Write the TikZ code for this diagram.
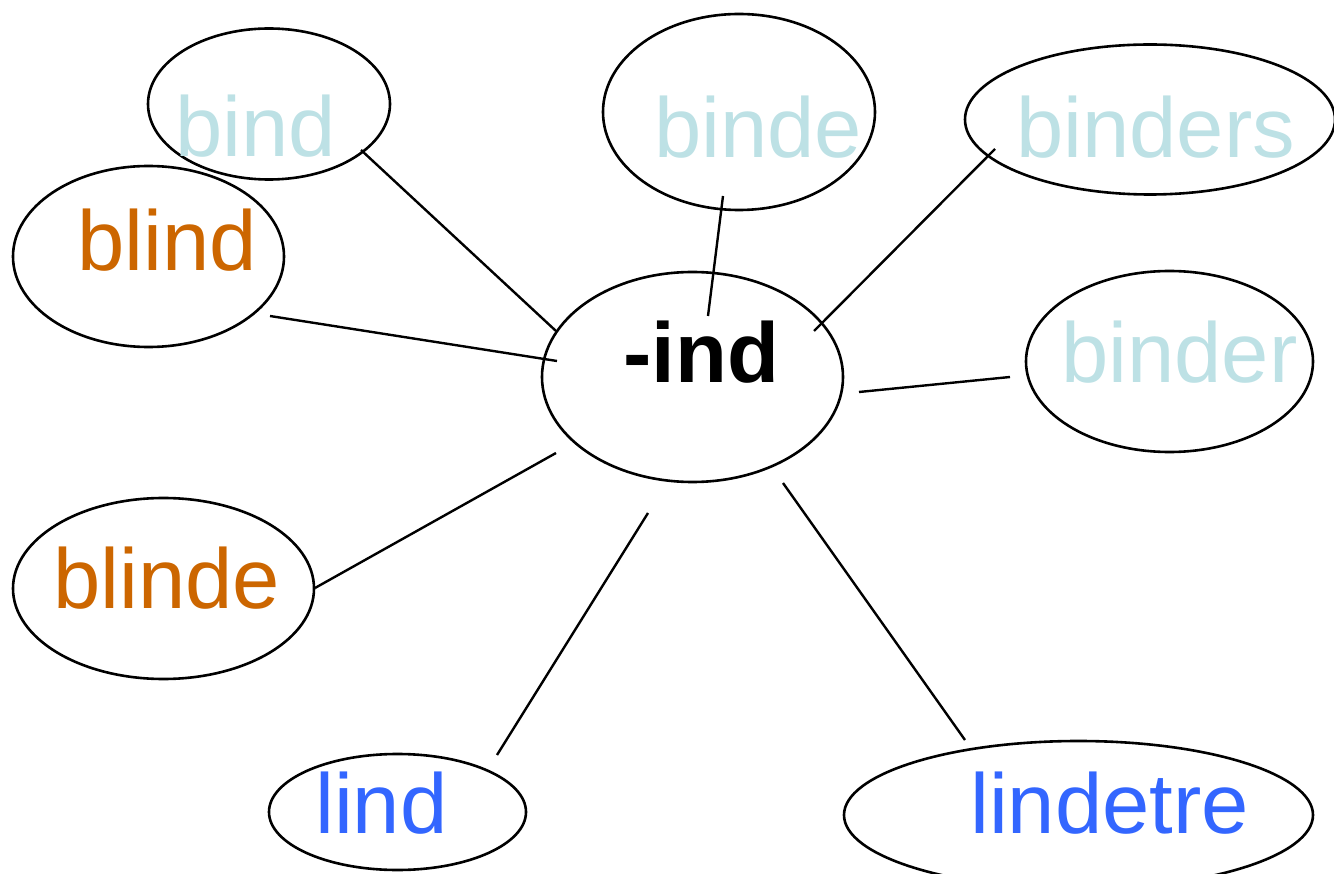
\documentclass[tikz,border=0pt]{standalone}
\usepackage{fontspec}
\setmainfont{Liberation Sans}
\usetikzlibrary{shapes.geometric}
\definecolor{lcyan}{HTML}{BDE1E5}
\definecolor{lorange}{HTML}{CC6600}
\definecolor{lblue}{HTML}{3366FF}
\tikzset{
  bubble/.style={ellipse, draw=black, line width=2.6pt, inner sep=0pt, fill=none},
  word/.style={anchor=base west, inner sep=0pt, font=\fontsize{85}{100}\selectfont},
  link/.style={draw=black, line width=2.4pt},
}
\begin{document}
\begin{tikzpicture}[x=1pt,y=-1pt]
\useasboundingbox (0,0) rectangle (1334,874);
\clip (0,0) rectangle (1334,874);
% ellipses
\node[bubble, minimum width=242pt, minimum height=151pt] (bindE) at (269,104) {};
\node[bubble, minimum width=272pt, minimum height=196pt] (bindeE) at (739,112) {};
\node[bubble, minimum width=370pt, minimum height=150pt] (bindersE) at (1150,119.5) {};
\node[bubble, minimum width=271pt, minimum height=181pt] (blindE) at (148.5,256.5) {};
\node[bubble, minimum width=301pt, minimum height=210pt] (indE) at (692.5,377) {};
\node[bubble, minimum width=287pt, minimum height=181pt] (binderE) at (1169.5,361.5) {};
\node[bubble, minimum width=301pt, minimum height=181pt] (blindeE) at (163.5,588.5) {};
\node[bubble, minimum width=257pt, minimum height=116pt] (lindE) at (397.5,812) {};
\node[bubble, minimum width=469pt, minimum height=148pt] (lindetreE) at (1078.5,815) {};
% words
\node[word, text=lcyan] (bind) at (175,157) {bind};
\node[word, text=lcyan] (binde) at (654,158) {binde};
\node[word, text=lcyan] (binders) at (1016,158) {binders};
\node[word, text=lorange] (blind) at (77,271) {blind};
\node[word, font=\fontsize{85}{100}\selectfont\bfseries] (ind) at (623,383) {-ind};
\node[word, text=lcyan] (binder) at (1061,383) {binder};
\node[word, text=lorange] (blinde) at (53,608) {blinde};
\node[word, text=lblue] (lind) at (315,833) {lind};
\node[word, text=lblue] (lindetre) at (970,833) {lindetre};
% connector end points
\coordinate (cBind) at (361,150);
\coordinate (cBindI) at (556,331);
\coordinate (cBlind) at (270,316);
\coordinate (cBlindI) at (557,361);
\coordinate (cBinde) at (723,196);
\coordinate (cBindeI) at (708,316);
\coordinate (cBinders) at (995,149);
\coordinate (cBindersI) at (814,331);
\coordinate (cBinder) at (1010,377);
\coordinate (cBinderI) at (859,392);
\coordinate (cBlinde) at (315,588);
\coordinate (cBlindeI) at (556,453);
\coordinate (cLind) at (497,755);
\coordinate (cLindI) at (648,513);
\coordinate (cLindetre) at (965,740);
\coordinate (cLindetreI) at (783,483);
% connectors
\draw[link] (cBind) -- (cBindI);
\draw[link] (cBlind) -- (cBlindI);
\draw[link] (cBinde) -- (cBindeI);
\draw[link] (cBinders) -- (cBindersI);
\draw[link] (cBinder) -- (cBinderI);
\draw[link] (cBlinde) -- (cBlindeI);
\draw[link] (cLind) -- (cLindI);
\draw[link] (cLindetre) -- (cLindetreI);
\end{tikzpicture}
\end{document}
